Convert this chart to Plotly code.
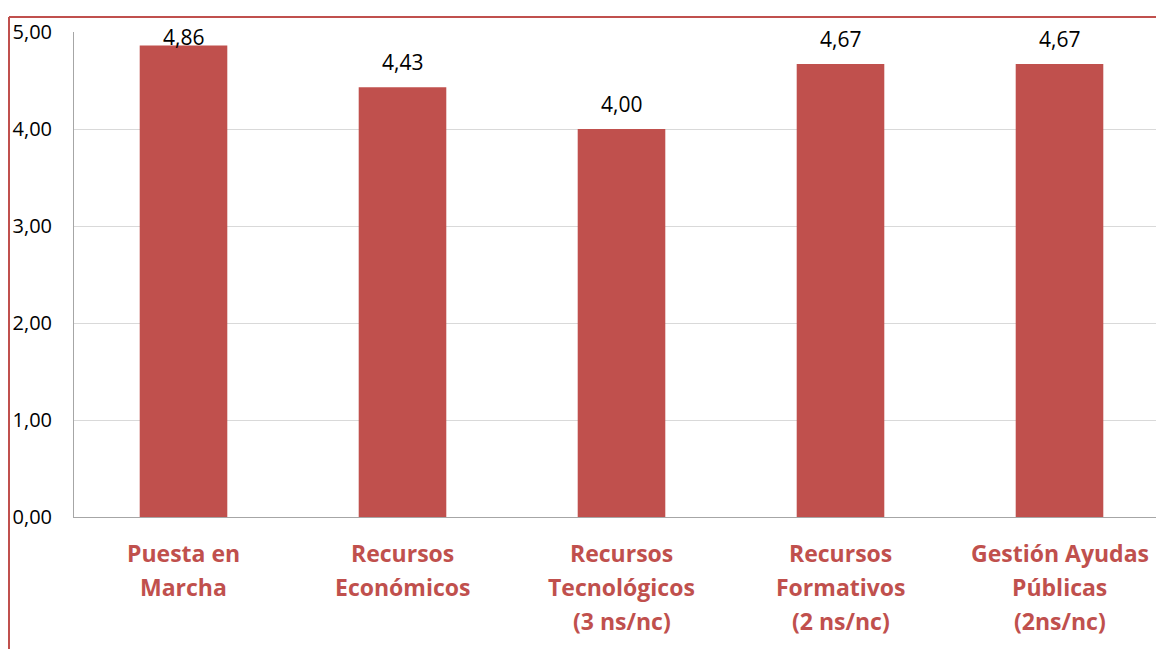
import plotly.graph_objects as go

# Valoración media por área de apoyo
categorias = [
    "Puesta en<br>Marcha",
    "Recursos<br>Económicos",
    "Recursos<br>Tecnológicos<br>(3 ns/nc)",
    "Recursos<br>Formativos<br>(2 ns/nc)",
    "Gestión Ayudas<br>Públicas<br>(2ns/nc)",
]
valores = [4.86, 4.43, 4.00, 4.67, 4.67]
ticks_y = [0, 1, 2, 3, 4, 5]

ROJO = "#C0504D"
W, H = 1156, 649
L, T, B = 74, 32, 132
PX_UNIDAD = (H - T - B) / 5.0

xs = list(range(len(categorias)))

fig = go.Figure(
    go.Bar(
        x=xs,
        y=valores,
        width=0.40,
        marker=dict(color=ROJO, line=dict(width=0)),
        hoverinfo="x+y",
    )
)

# Etiquetas de valor sobre cada barra (limitadas al área de trazado)
for i, v in zip(xs, valores):
    fig.add_annotation(
        x=i, y=min(v + 25 / PX_UNIDAD, 5 - 5 / PX_UNIDAD),
        xref="x", yref="y",
        text=f"{v:.2f}".replace(".", ","),
        showarrow=False, yanchor="middle", xanchor="center",
        font=dict(family="Open Sans", size=21, color="#000000"),
    )

# Etiquetas de categoría, una línea por anotación
for i, cat in zip(xs, categorias):
    for k, linea in enumerate(cat.split("<br>")):
        fig.add_annotation(
            x=i, y=0, xref="x", yref="y",
            text=linea, showarrow=False,
            yanchor="middle", xanchor="center",
            yshift=-(36 + 34 * k),
            font=dict(family="Open Sans", size=23, color=ROJO, weight="bold"),
        )

fig.update_layout(
    width=W,
    height=H,
    margin=dict(l=L, r=0, t=T, b=B, pad=0),
    paper_bgcolor="white",
    plot_bgcolor="white",
    separators=",.",
    showlegend=False,
)

fig.update_xaxes(
    range=[-0.5, (W - L) / 219 - 0.5],
    tickmode="array",
    tickvals=xs,
    showticklabels=False,
    showgrid=False,
    showline=True,
    linecolor="#A6A6A6",
    linewidth=1,
    ticks="",
    zeroline=False,
)

fig.update_yaxes(
    range=[0, 5],
    tickmode="array",
    tickvals=ticks_y,
    tickformat=".2f",
    tickfont=dict(family="Open Sans", size=20, color="#000000"),
    showgrid=True,
    gridcolor="#D9D9D9",
    gridwidth=1,
    showline=True,
    linecolor="#A6A6A6",
    linewidth=1,
    ticks="",
    ticklabelstandoff=17,
    zeroline=False,
)

# Marco rojo (solo borde superior e izquierdo visibles)
fx = -(L - 9) / (W - L)
fy = 1 + (T - 17) / (H - T - B)
fig.add_shape(
    type="line", xref="paper", yref="paper",
    x0=fx, x1=1.05, y0=fy, y1=fy,
    line=dict(color=ROJO, width=2),
)
fig.add_shape(
    type="line", xref="paper", yref="paper",
    x0=fx, x1=fx, y0=fy, y1=-B / (H - T - B) - 0.05,
    line=dict(color=ROJO, width=2),
)

fig.write_html("out.html")
